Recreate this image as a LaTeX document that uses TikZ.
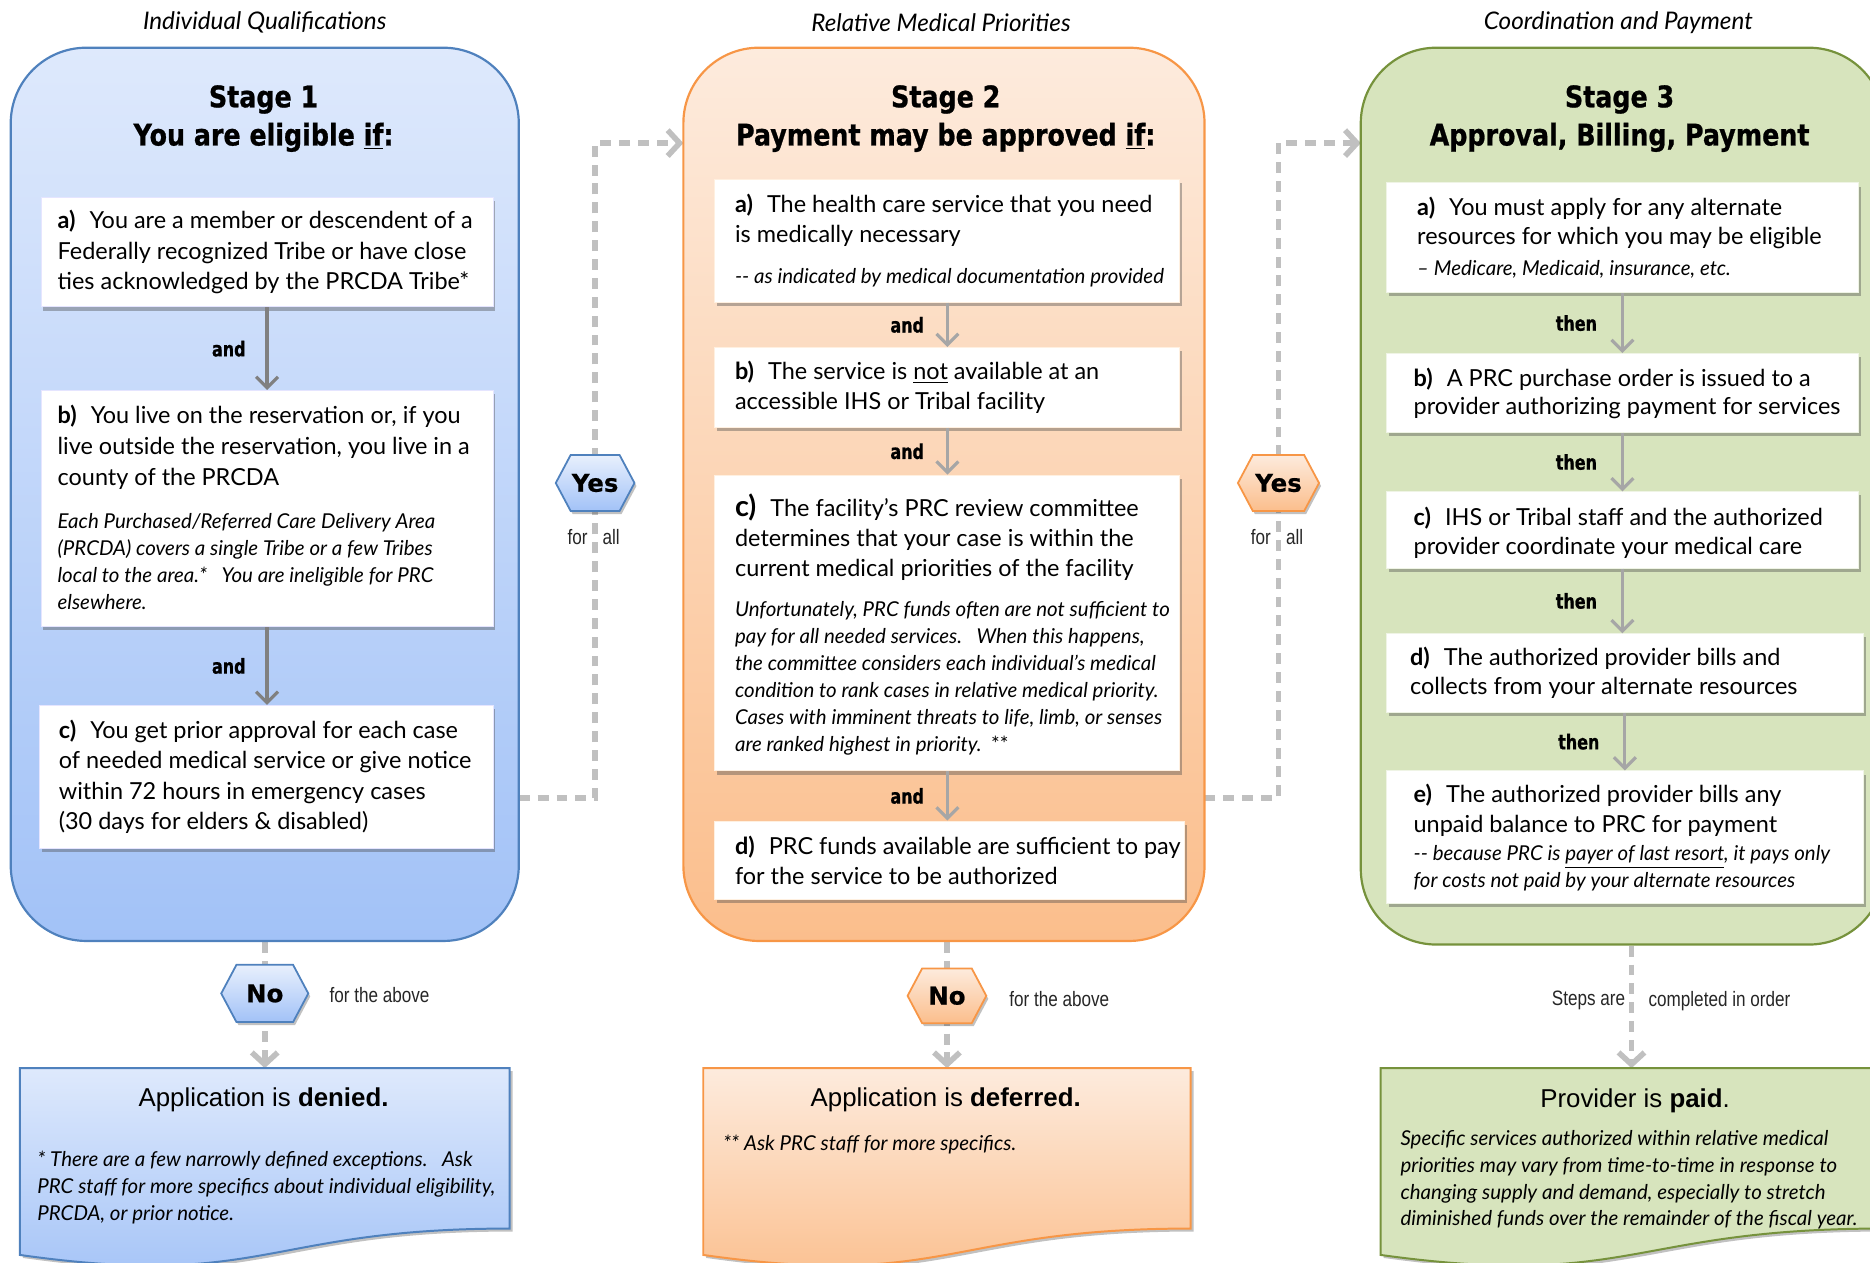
\documentclass[tikz,border=0pt]{standalone}
\usepackage{fontspec}
\setmainfont{Lato}
\newfontfamily\headfont[FakeStretch=0.85,FakeBold=0.8]{DejaVu Sans}
\newfontfamily\condfont[FakeStretch=0.78,FakeBold=0.8]{DejaVu Sans}
\newfontfamily\hexfont[FakeBold=0.6]{DejaVu Sans}
\newfontfamily\arialfont{Liberation Sans}
\newfontfamily\narrowfont[FakeStretch=0.82]{Liberation Sans}
\usetikzlibrary{shapes.symbols,shadows,arrows.meta,calc}

\definecolor{blueTop}{RGB}{222,233,252}
\definecolor{blueBot}{RGB}{162,194,247}
\definecolor{blueLine}{RGB}{79,129,189}
\definecolor{orTop}{RGB}{253,235,221}
\definecolor{orBot}{RGB}{251,190,140}
\definecolor{orLine}{RGB}{247,150,70}
\definecolor{grFill}{RGB}{215,228,189}
\definecolor{grLine}{RGB}{118,146,60}
\definecolor{dashGray}{RGB}{192,192,192}
\definecolor{arrDark}{RGB}{128,128,128}
\definecolor{arrLight}{RGB}{166,166,166}

\pgfdeclarelayer{back}
\pgfsetlayers{back,main}

% document shape (flowchart "document") drawn over a rectangular frame node
\newcommand\docoutline[2]{%
  \path[#2] (#1.north west) -- (#1.north east) -- ($(#1.north east)!0.802!(#1.south east)$)
    .. controls ($(#1.north)!0.802!(#1.south)$) and ($(#1.north)!1.107!(#1.south)$) ..
    ($(#1.north west)!0.934!(#1.south west)$) -- cycle;}

\tikzset{
  panelbox/.style={draw, line width=1.1pt, rounded corners=38pt, inner sep=0pt},
  cardbox/.style={fill=white, draw=#1, line width=0.5pt, inner sep=0pt, anchor=north west,
    drop shadow={shadow xshift=1.2pt, shadow yshift=-1.8pt, opacity=0.4, fill=black!70}},
  cardtext/.style={anchor=west, align=left, inner sep=0pt, font=\fontsize{11.8}{15.3}\selectfont},
  cardtextb/.style={anchor=west, align=left, inner sep=0pt, font=\fontsize{11.8}{14.4}\selectfont},
  notetext/.style={anchor=west, align=left, inner sep=0pt, font=\itshape\fontsize{10.3}{13.6}\selectfont},
  steplbl/.style={font=\condfont\bfseries\fontsize{10.3}{12}\selectfont, inner sep=0pt},
  flowarrow/.style={draw=#1, line width=1.6pt, -{Straight Barb[length=5.5pt,width=11pt]}},
  hexbox/.style={shape=signal, signal to=east and west, signal pointer angle=124, inner sep=0pt,
    line width=0.9pt, font=\hexfont\bfseries\fontsize{12.3}{14}\selectfont,
    drop shadow={shadow xshift=1pt, shadow yshift=-1.5pt, opacity=0.35, fill=black!70}},
  dashflow/.style={draw=dashGray, line width=2.8pt, dash pattern=on 5.5pt off 4pt,
    -{Straight Barb[length=6pt,width=13pt]}},
  dashline/.style={draw=dashGray, line width=2.8pt, dash pattern=on 5.5pt off 4pt},
  sidetext/.style={font=\narrowfont\fontsize{10.5}{12}\selectfont, inner sep=0pt, text=black!85},
  stagehead/.style={anchor=base, inner sep=0pt, font=\headfont\bfseries\fontsize{15}{18}\selectfont},
  coltitle/.style={inner sep=0pt, font=\itshape\fontsize{12.2}{14}\selectfont},
  docframe/.style={inner sep=0pt, minimum height=100.2pt},
  doctitle/.style={inner sep=0pt, font=\arialfont\fontsize{13}{15}\selectfont},
}

\begin{document}
\begin{tikzpicture}[x=0.6pt,y=-0.6pt]
\useasboundingbox (0,0) rectangle (1568,1059);
\clip (0,0) rectangle (1568,1059);

% column titles
\node[coltitle] (t1) at (222,19) {Individual Qualifications};
\node[coltitle] (t2) at (789,19) {Relative Medical Priorities};
\node[coltitle] (t3) at (1357,19) {Coordination and Payment};

% stage panels
\node[panelbox, draw=blueLine, top color=blueTop, bottom color=blueBot,
  minimum width=255.6pt, minimum height=449.4pt] (s1) at (222,414.5) {};
\node[panelbox, draw=orLine, top color=orTop, bottom color=orBot,
  minimum width=262.2pt, minimum height=449.4pt] (s2) at (791.5,414.5) {};
\node[panelbox, draw=grLine, fill=grFill,
  minimum width=263.4pt, minimum height=451.2pt] (s3) at (1360.5,416) {};

% stage headings
\node[stagehead] (h1a) at (221,90) {Stage 1};
\node[stagehead] (h1b) at (221,122) {You are eligible \underline{if}:};
\node[stagehead] (h2a) at (793,90) {Stage 2};
\node[stagehead] (h2b) at (793,122) {Payment may be approved \underline{if}:};
\node[stagehead] (h3a) at (1358,90) {Stage 3};
\node[stagehead] (h3b) at (1358,122) {Approval, Billing, Payment};

% ---------- Stage 1 cards ----------
\node[cardbox=blue!10, minimum width=227.4pt, minimum height=55.2pt] (s1a) at (34,165) {};
\node[cardtext] (s1at) at (48,211.5) {\textbf{a)}\hspace{0.6em}You are a member or descendent of a\\
  Federally recognized Tribe or have close\\ties acknowledged by the PRCDA Tribe*};

\node[cardbox=blue!10, minimum width=227.4pt, minimum height=118.8pt] (s1b) at (34,327) {};
\node[cardtext, font=\fontsize{11.8}{15.6}\selectfont] (s1bt) at (48,375) {\textbf{b)}\hspace{0.6em}You live on the reservation or, if you\\
  live outside the reservation, you live in a\\county of the PRCDA};
\node[notetext] (s1bn) at (48,471) {Each Purchased/Referred Care Delivery Area\\
  (PRCDA) covers a single Tribe or a few Tribes\\
  local to the area.*\hspace{0.7em}You are ineligible for PRC\\elsewhere.};

\node[cardbox=blue!10, minimum width=228pt, minimum height=72pt] (s1c) at (33,591) {};
\node[cardtext] (s1ct) at (49,651.5) {\textbf{c)}\hspace{0.6em}You get prior approval for each case\\
  of needed medical service or give notice\\within 72 hours in emergency cases\\
  (30 days for elders \& disabled)};

% ---------- Stage 2 cards ----------
\node[cardbox=orange!12, minimum width=234pt, minimum height=61.8pt] (s2a) at (599,150) {};
\node[cardtext] (s2at) at (616,184.5) {\textbf{a)}\hspace{0.6em}The health care service that you need\\is medically necessary};
\node[notetext] (s2an) at (616,233) {-{}- as indicated by medical documentation provided};

\node[cardbox=orange!12, minimum width=234pt, minimum height=40.2pt] (s2b) at (599,291) {};
\node[cardtext] (s2bt) at (616,325) {\textbf{b)}\hspace{0.6em}The service is \underline{not} available at an\\
  accessible IHS or Tribal facility};

\node[cardbox=orange!12, minimum width=234pt, minimum height=148.8pt] (s2c) at (599,398) {};
\node[cardtext] (s2ct) at (616,450.5) {{\fontsize{14.5}{15}\selectfont\textbf{c)}}\hspace{0.6em}The facility’s PRC review committee\\
  determines that your case is within the\\current medical priorities of the facility};
\node[notetext] (s2cn) at (616,568.5) {Unfortunately, PRC funds often are not sufficient to\\
  pay for all needed services.\hspace{0.7em}When this happens,\\
  the committee considers each individual’s medical\\
  condition to rank cases in relative medical priority.\\
  Cases with imminent threats to life, limb, or senses\\
  are ranked highest in priority.\ \ {\upshape **}};

\node[cardbox=orange!12, minimum width=236.4pt, minimum height=39.6pt] (s2d) at (599,688) {};
\node[cardtext] (s2dt) at (616,721.5) {\textbf{d)}\hspace{0.6em}PRC funds available are sufficient to pay\\
  for the service to be authorized};

% ---------- Stage 3 cards ----------
\node[cardbox=grFill!40, minimum width=237.6pt, minimum height=55.2pt] (s3a) at (1162,153) {};
\node[cardtextb] (s3at) at (1188,187) {\textbf{a)}\hspace{0.6em}You must apply for any alternate\\
  resources for which you may be eligible};
\node[notetext] (s3an) at (1188,226) {– Medicare, Medicaid, insurance, etc.};

\node[cardbox=grFill!40, minimum width=237.6pt, minimum height=39.6pt] (s3b) at (1162,296) {};
\node[cardtextb] (s3bt) at (1185,330) {\textbf{b)}\hspace{0.6em}A PRC purchase order is issued to a\\
  provider authorizing payment for services};

\node[cardbox=grFill!40, minimum width=237.6pt, minimum height=38.4pt] (s3c) at (1162,412) {};
\node[cardtextb] (s3ct) at (1185,447) {\textbf{c)}\hspace{0.6em}IHS or Tribal staff and the authorized\\
  provider coordinate your medical care};

\node[cardbox=grFill!40, minimum width=240pt, minimum height=39.6pt] (s3d) at (1162,531) {};
\node[cardtextb] (s3dt) at (1182,564) {\textbf{d)}\hspace{0.6em}The authorized provider bills and\\
  collects from your alternate resources};

\node[cardbox=grFill!40, minimum width=240pt, minimum height=66.6pt] (s3e) at (1162,646) {};
\node[cardtextb, font=\fontsize{11.8}{15}\selectfont] (s3et) at (1185,679.5) {\textbf{e)}\hspace{0.6em}The authorized provider bills any\\
  unpaid balance to PRC for payment};
\node[notetext, font=\itshape\fontsize{10.3}{13.2}\selectfont] (s3en) at (1185,728) {-{}- because PRC is \underline{payer of last resort}, it pays only\\
  for costs not paid by your alternate resources};

% ---------- solid step arrows inside the panels ----------
\draw[flowarrow=arrDark] (s1a) -- node[steplbl, left=10pt] (l1) {and} (s1b);
\draw[flowarrow=arrDark] (s1b) -- node[steplbl, left=10pt] (l2) {and} (s1b.south |- s1c.north);
\draw[flowarrow=arrLight] (s2a.south) -- node[steplbl, left=11pt] (l3) {and} (s2b.north);
\draw[flowarrow=arrLight] (s2b.south) -- node[steplbl, left=11pt] (l4) {and} (s2c.north);
\draw[flowarrow=arrLight] (s2c.south) -- node[steplbl, left=11pt] (l5) {and} (s2c.south |- s2d.north);
\draw[flowarrow=arrLight] (s3a.south) -- node[steplbl, left=12pt] (l6) {then} (s3b.north);
\draw[flowarrow=arrLight] (s3b.south) -- node[steplbl, left=12pt] (l7) {then} (s3c.north);
\draw[flowarrow=arrLight] (s3c.south) -- node[steplbl, left=12pt] (l8) {then} (s3c.south |- s3d.north);
\draw[flowarrow=arrLight] (s3d.south) -- node[steplbl, left=12pt] (l9) {then} (s3d.south |- s3e.north);

% ---------- decision hexagons ----------
\node[hexbox, draw=blueLine, top color=blueTop!70!white, bottom color=blueBot,
  minimum width=39.6pt, minimum height=28.2pt] (yes1) at (499,405) {Yes};
\node[hexbox, draw=orLine, top color=orTop, bottom color=orBot,
  minimum width=40.8pt, minimum height=28.2pt] (yes2) at (1072,405) {Yes};
\node[hexbox, draw=blueLine, top color=blueTop!70!white, bottom color=blueBot,
  minimum width=43.8pt, minimum height=28.8pt] (no1) at (222,833) {No};
\node[hexbox, draw=orLine, top color=orTop, bottom color=orBot,
  minimum width=39.6pt, minimum height=27.6pt] (no2) at (794,835) {No};

\node[sidetext, anchor=east] (fa1) at (493,450) {for};
\node[sidetext, anchor=west] (fb1) at (505,450) {all};
\node[sidetext, anchor=east] (fa2) at (1066,450) {for};
\node[sidetext, anchor=west] (fb2) at (1078,450) {all};
\node[sidetext, anchor=west] (ab1) at (276,834) {for the above};
\node[sidetext, anchor=west] (ab2) at (846,838) {for the above};
\node[sidetext, anchor=east] (st1) at (1363,839) {Steps are};
\node[sidetext, anchor=west] (st2) at (1382,839) {completed in order};

% ---------- outcome documents ----------
\node[docframe, minimum width=246pt] (den) at (222,979.5) {};
\docoutline{den}{draw=blueLine, line width=1pt, top color=blueTop, bottom color=blueBot,
  drop shadow={shadow xshift=1.5pt, shadow yshift=-1.5pt, opacity=0.35, fill=black!70}}
\node[doctitle] (dent) at (221,922) {Application is \textbf{denied.}};
\node[notetext] (denn) at (31,995.5) {* There are a few narrowly defined exceptions.\hspace{0.7em}Ask\\
  PRC staff for more specifics about individual eligibility,\\PRCDA, or prior notice.};

\node[docframe, minimum width=244.8pt] (def) at (794,979.5) {};
\docoutline{def}{draw=orLine, line width=1pt, top color=orTop, bottom color=orBot,
  drop shadow={shadow xshift=1.5pt, shadow yshift=-1.5pt, opacity=0.35, fill=black!70}}
\node[doctitle] (deft) at (793,922) {Application is \textbf{deferred.}};
\node[notetext] (defn) at (606,960) {** Ask PRC staff for more specifics.};

\node[docframe, minimum width=252pt] (paid) at (1368,979.5) {};
\docoutline{paid}{draw=grLine, line width=1pt, fill=grFill,
  drop shadow={shadow xshift=1.5pt, shadow yshift=-1.5pt, opacity=0.35, fill=black!70}}
\node[doctitle] (paidt) at (1371,923) {Provider is \textbf{paid}.};
\node[notetext, font=\itshape\fontsize{10.3}{13.4}\selectfont] (paidn) at (1174,989.5) {Specific services authorized within relative medical\\
  priorities may vary from time-to-time in response to\\
  changing supply and demand, especially to stretch\\
  diminished funds over the remainder of the fiscal year.};

% ---------- dashed flow connectors (behind everything) ----------
\coordinate (s1out) at (435,669);
\coordinate (s2in) at (573,120);
\coordinate (s2out) at (1010,669);
\coordinate (s3in) at (1141,120);
\begin{pgfonlayer}{back}
  \draw[dashflow] (s1out) -| (yes1.center) |- (s2in);
  \draw[dashflow] (s2out) -| (yes2.center) |- (s3in);
  \draw[dashline] (no1 |- s1.south) -- (no1.center);
  \draw[dashflow] (no1.center) -- (den.north);
  \draw[dashline] (no2 |- s2.south) -- (no2.center);
  \draw[dashflow] (no2.center) -- (def.north);
  \draw[dashflow] (paid.north |- s3.south) -- (paid.north);
\end{pgfonlayer}
\end{tikzpicture}
\end{document}
